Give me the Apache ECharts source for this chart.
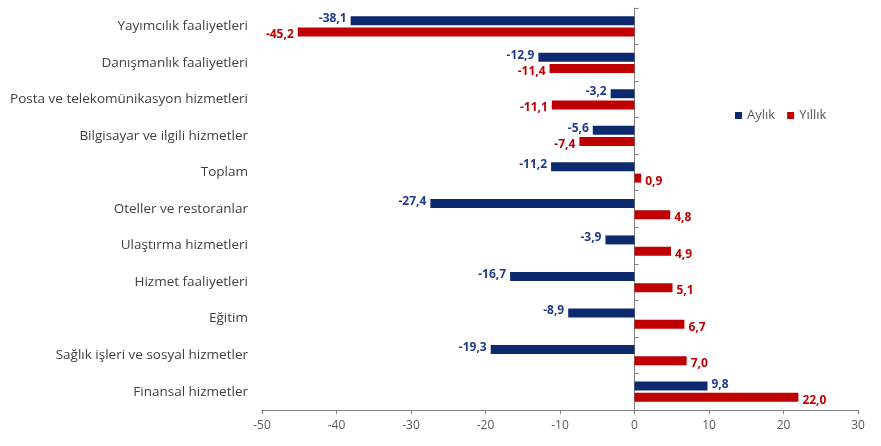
<!DOCTYPE html>
<html><head><meta charset="utf-8">
<script src="https://cdn.jsdelivr.net/npm/echarts@6/dist/echarts.min.js"></script>
<style>html,body{margin:0;padding:0;background:#fff}#c{width:881px;height:446px}</style>
</head><body><div id="c"></div>
<script>
const categories = ["Yayımcılık faaliyetleri","Danışmanlık faaliyetleri","Posta ve telekomünikasyon hizmetleri","Bilgisayar ve ilgili hizmetler","Toplam","Oteller ve restoranlar","Ulaştırma hizmetleri","Hizmet faaliyetleri","Eğitim","Sağlık işleri ve sosyal hizmetler","Finansal hizmetler"];
const aylik = [-38.1,-12.9,-3.2,-5.6,-11.2,-27.4,-3.9,-16.7,-8.9,-19.3,9.8];
const yillik = [-45.2,-11.4,-11.1,-7.4,0.9,4.8,4.9,5.1,6.7,7.0,22.0];
const xTicks = {min:-50,max:30,interval:10};

const navy = '#0E2A6E', red = '#C00000';
function mk(vals, color, lblColor, dy){
  return vals.map(v => ({
    value: v,
    label: {show:true, position: v<0?'left':'right', color: lblColor, fontWeight:'bold', fontSize:12,
      fontFamily:'Open Sans', distance:4, offset:[0,dy],
      formatter: p => p.value.toFixed(1).replace('.',',')}
  }));
}
const chart = echarts.init(document.getElementById('c'));
chart.setOption({
  animation:false,
  grid:{left:262,right:23,top:8,bottom:36,containLabel:false},
  legend:{data:['Aylık','Yıllık'],left:730,top:104,itemWidth:7,itemHeight:7,itemGap:12,icon:'rect',
    textStyle:{color:'#595959',fontSize:13,fontFamily:'Open Sans'}},
  xAxis:{type:'value',min:xTicks.min,max:xTicks.max,interval:xTicks.interval,
    splitLine:{show:false},
    axisLine:{show:true,lineStyle:{color:'#808080'}},
    axisTick:{show:true,length:4,lineStyle:{color:'#808080'}},
    axisLabel:{color:'#595959',fontSize:12,fontFamily:'Open Sans',margin:10,
      formatter:v=>String(v)}},
  yAxis:[
    {type:'category',data:categories,inverse:true,position:'left',
     axisLine:{show:false,onZero:false},axisTick:{show:false},
     axisLabel:{color:'#404040',fontSize:13.5,fontFamily:'Open Sans',margin:14}},
    {type:'category',data:categories,inverse:true,
     axisLine:{show:true,onZero:true,lineStyle:{color:'#808080'}},
     axisTick:{show:true,length:4,lineStyle:{color:'#808080'}},
     axisLabel:{show:false}}
  ],
  series:[
    {name:'Aylık',type:'bar',yAxisIndex:0,barWidth:9,barGap:'25%',itemStyle:{color:navy},
     data:mk(aylik,navy,'#1F3C88',-2)},
    {name:'Yıllık',type:'bar',yAxisIndex:0,barWidth:9,barGap:'25%',itemStyle:{color:red},
     data:mk(yillik,red,red,3)}
  ]
});
</script></body></html>
